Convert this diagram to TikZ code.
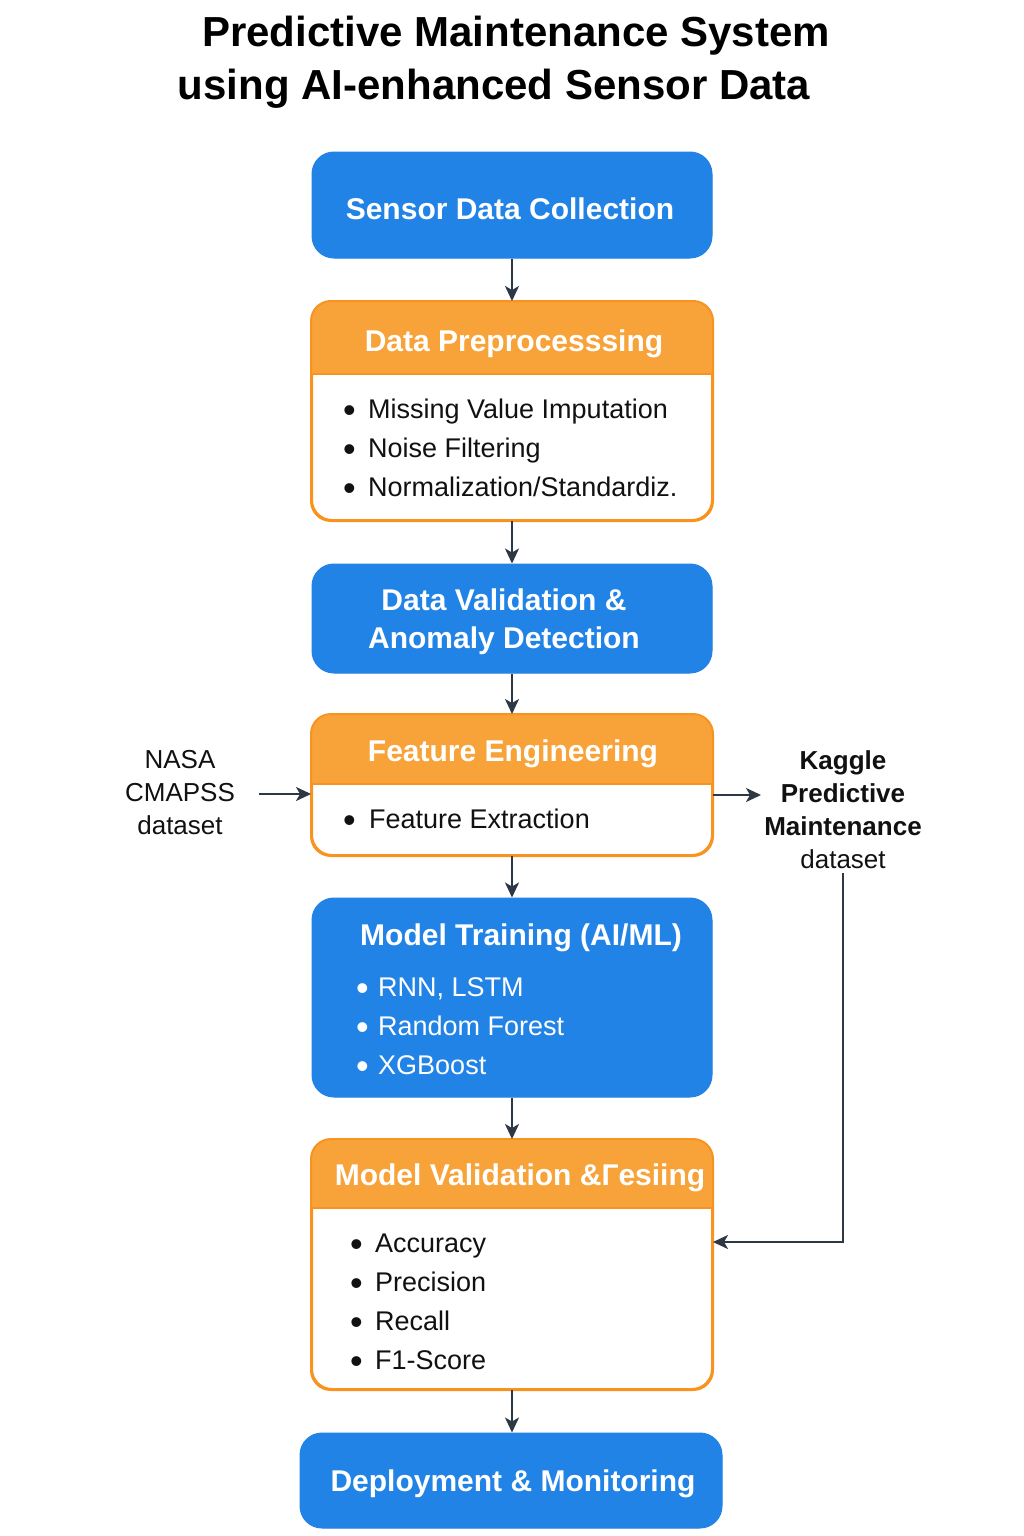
\documentclass[tikz,border=0pt]{standalone}
\usepackage{fontspec}
\setmainfont{Liberation Sans}
\usetikzlibrary{arrows.meta}
\definecolor{bblue}{HTML}{2183E5}
\definecolor{borange}{HTML}{F8A33A}
\definecolor{oline}{HTML}{F7931E}
\definecolor{arr}{HTML}{2D3845}
\definecolor{txt}{HTML}{111111}
\newcommand\ftitle{\fontsize{42}{52}\selectfont\bfseries}
\newcommand\fhead{\fontsize{30}{38}\selectfont\bfseries}
\newcommand\fbody{\fontsize{27}{39}\selectfont}
\newcommand\fside{\fontsize{26}{33}\selectfont}
\tikzset{
  bluebox/.style={fill=bblue, draw=bblue, line width=1, rounded corners=22, inner sep=0},
  orbox/.style={fill=white, draw=oline, line width=2, rounded corners=20, inner sep=0},
  headtxt/.style={text=white, font=\fhead, inner sep=0, align=center},
  listtxt/.style={text=txt, font=\fbody, inner sep=0, align=left, anchor=west},
  wlisttxt/.style={text=white, font=\fbody, inner sep=0, align=left, anchor=west},
  sidetxt/.style={text=txt, font=\fside, inner sep=0, align=center},
  conn/.style={draw=arr, line width=2, -{Stealth[length=15, width=14, inset=4]}},
}
\newcommand\bul[1]{\makebox[#1][l]{\raisebox{-4pt}{\fontsize{36}{0}\selectfont•}}}
\begin{document}
\begin{tikzpicture}[x=1pt, y=-1pt]
\useasboundingbox[fill=white] (0,0) rectangle (1024,1536);

% title
\node[font=\ftitle, text=black, inner sep=0] (t1) at (516,36) {Predictive Maintenance System};
\node[font=\ftitle, text=black, inner sep=0] (t2) at (494,89) {using AI-enhanced Sensor Data};

% 1 Sensor data collection
\node[bluebox, minimum width=400, minimum height=106] (sensor) at (512,205) {};
\node[headtxt] (sensorT) at (510,209) {Sensor Data Collection};

% 2 Data preprocessing
\node[orbox, minimum width=400, minimum height=218] (pre) at (512,411) {};
\begin{scope}
  \clip[rounded corners=20] (pre.south west) rectangle (pre.north east);
  \fill[borange] (pre.north west) rectangle ([yshift=-73pt]pre.north east);
\end{scope}
\draw[oline, line width=2, rounded corners=20] (pre.south west) rectangle (pre.north east);
\draw[oline, line width=1.5] ([yshift=-73pt]pre.north west) -- ([yshift=-73pt]pre.north east);
\node[headtxt] (preT) at (514,344) {Data Preprocesssing};
\node[listtxt] (preL) at (343,450) {\bul{25pt}Missing Value Imputation\\\bul{25pt}Noise Filtering\\\bul{25pt}Normalization/Standardiz.};

% 3 Data validation
\node[bluebox, minimum width=400, minimum height=109] (val) at (512,618.5) {};
\node[headtxt] (valT) at (504,622) {Data Validation \&\\Anomaly Detection};

% 4 Feature engineering
\node[orbox, minimum width=400, minimum height=140] (feat) at (512,785) {};
\begin{scope}
  \clip[rounded corners=20] (feat.south west) rectangle (feat.north east);
  \fill[borange] (feat.north west) rectangle ([yshift=-70pt]feat.north east);
\end{scope}
\draw[oline, line width=2, rounded corners=20] (feat.south west) rectangle (feat.north east);
\draw[oline, line width=1.5] ([yshift=-70pt]feat.north west) -- ([yshift=-70pt]feat.north east);
\node[headtxt] (featT) at (513,754) {Feature Engineering};
\node[listtxt] (featL) at (343,821) {\bul{26pt}Feature Extraction};

% 5 Model training
\node[bluebox, minimum width=400, minimum height=199] (train) at (512,997.5) {};
\node[headtxt] (trainT) at (521,938) {Model Training (AI/ML)};
\node[wlisttxt] (trainL) at (356,1028) {\bul{22pt}RNN, LSTM\\\bul{22pt}Random Forest\\\bul{22pt}XGBoost};

% 6 Model validation & testing
\node[orbox, minimum width=400, minimum height=249] (mval) at (512,1264.5) {};
\begin{scope}
  \clip[rounded corners=20] (mval.south west) rectangle (mval.north east);
  \fill[borange] (mval.north west) rectangle ([yshift=-69pt]mval.north east);
\end{scope}
\draw[oline, line width=2, rounded corners=20] (mval.south west) rectangle (mval.north east);
\draw[oline, line width=1.5] ([yshift=-69pt]mval.north west) -- ([yshift=-69pt]mval.north east);
\node[headtxt] (mvalT) at (520,1178) {Model Validation \&Гesiing};
\node[listtxt] (mvalL) at (350,1304) {\bul{25pt}Accuracy\\\bul{25pt}Precision\\\bul{25pt}Recall\\\bul{25pt}F1-Score};

% 7 Deployment
\node[bluebox, minimum width=422, minimum height=95] (dep) at (511,1480.5) {};
\node[headtxt] (depT) at (513,1484) {Deployment \& Monitoring};

% side labels
\node[sidetxt] (nasa) at (180,793) {NASA\\CMAPSS\\dataset};
\node[sidetxt] (kaggle) at (843,810) {\bfseries Kaggle\\\bfseries Predictive\\\bfseries Maintenance\\dataset};
\coordinate (kbend) at (843,1242);

% connectors
\draw[conn] (sensor.south) -- (pre.north);
\draw[conn] (pre.south) -- (val.north);
\draw[conn] (val.south) -- (feat.north);
\draw[conn] (feat.south) -- (train.north);
\draw[conn] (train.south) -- (mval.north);
\draw[conn] (mval.south) -- (dep.north -| mval.south);
\draw[conn] (259,794) -- (feat.west |- 0,794);
\draw[conn] (feat.east |- 0,795) -- (761,795);
\draw[conn] ([yshift=-4pt]kaggle.south) -- (kbend) -- (mval.east |- kbend);
\end{tikzpicture}
\end{document}
